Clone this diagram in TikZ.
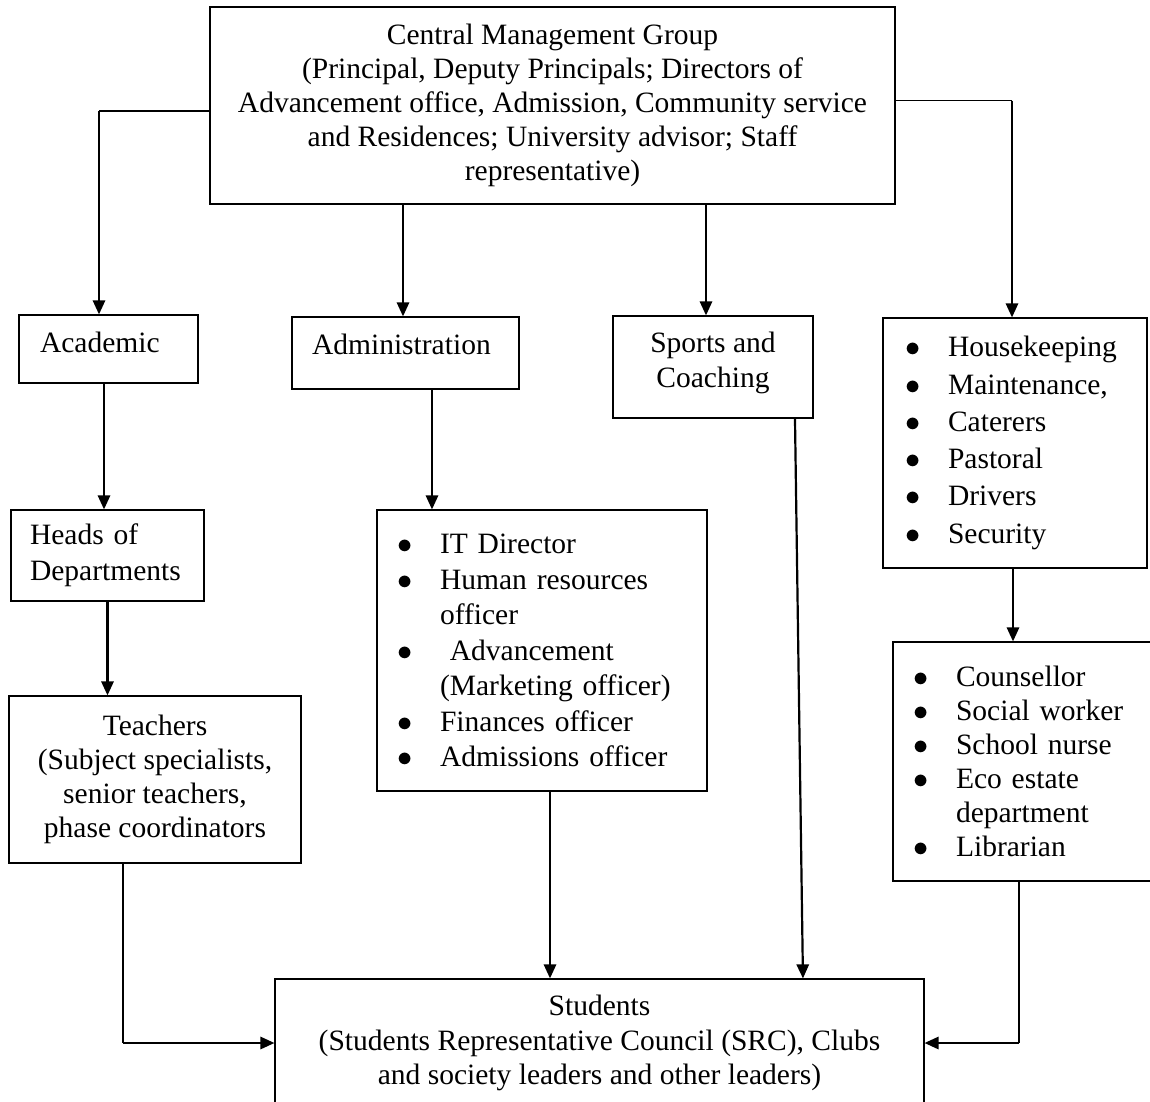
\documentclass[tikz,border=0pt]{standalone}
\usepackage{fontspec}
\setmainfont{Liberation Serif}
\usetikzlibrary{positioning,calc,arrows.meta}

\newcommand{\bul}{\makebox[0.86cm][l]{$\bullet$}}

\begin{document}
\begin{tikzpicture}[x=0.02cm,y=-0.02cm]
        \tikzstyle{box}=[draw, line width=0.7pt, inner ysep=0pt, font=\fontsize{16.8}{19.4}\selectfont]
        \tikzstyle{arr}=[line width=1.25pt, -{Triangle[length=8pt,width=7pt]}]
        \tikzstyle{link}=[line width=0.6pt]
        \useasboundingbox (0,0) rectangle (1150,1102);

        % top box
        \node[box, align=center, minimum width=13.7cm, minimum height=3.94cm] (cmg) at (552.5,105.5)
            {Central Management Group\\(Principal, Deputy Principals; Directors of\\Advancement office, Admission, Community service\\and Residences; University advisor; Staff\\representative)};

        % second row
        \node[box, align=left, inner xsep=0.42cm, text width=2.74cm, text depth=0.28cm, minimum height=1.36cm] (acad) at (108.5,349) {Academic};
        \node[box, align=left, inner xsep=0.4cm, text width=3.74cm, text depth=0.36cm, minimum height=1.44cm] (admin) at (405.5,353) {Administration};
        \node[box, align=center, text depth=0.29cm, minimum width=4cm, minimum height=2.04cm] (sports) at (713,367) {Sports and\\Coaching};
        \node[box, align=left, inner xsep=0.44cm, text width=4.4cm, minimum height=5cm,
              font=\fontsize{16.8}{21.2}\selectfont] (house) at (1015,443)
            {\bul Housekeeping\\\bul Maintenance,\\\bul Caterers\\\bul Pastoral\\\bul Drivers\\\bul Security};

        % third row
        \node[box, align=left, inner xsep=0.38cm, text width=3.1cm, minimum height=1.82cm,
              font=\fontsize{16.8}{20.4}\selectfont] (heads) at (107.5,555.5) {Heads of\\Departments};
        \node[box, align=left, inner xsep=0.4cm, text width=5.8cm, minimum height=5.62cm,
              font=\fontsize{16.8}{20.2}\selectfont] (itbox) at (542,650.5)
            {\bul IT Director\\\bul Human resources\\\hspace*{0.86cm}officer\\\bul \ Advancement\\\hspace*{0.86cm}(Marketing officer)\\\bul Finances officer\\\bul Admissions officer};
        \node[box, align=left, inner xsep=0.4cm, text width=4.38cm, minimum height=4.78cm] (couns) at (1022.5,761.5)
            {\bul Counsellor\\\bul Social worker\\\bul School nurse\\\bul Eco estate\\\hspace*{0.86cm}department\\\bul Librarian\par\vspace*{0.2cm}};
        \node[box, align=center, minimum width=5.84cm, minimum height=3.34cm] (teach) at (155,779.5)
            {Teachers\\(Subject specialists,\\senior teachers,\\phase coordinators};

        % bottom box
        \node[box, align=center, minimum width=12.98cm, minimum height=2.56cm] (stud) at (599.5,1043)
            {Students\\(Students Representative Council (SRC), Clubs\\and society leaders and other leaders)};

        % connectors
        \coordinate (kl) at ([yshift=-0.11cm]cmg.west -| 99,0);
        \coordinate (kr) at ([yshift=0.1cm]cmg.east -| 1012,0);
        \draw[link] ([yshift=-0.11cm]cmg.west) -- (kl);
        \draw[arr] (kl) -- (kl |- acad.north);
        \draw[arr] ([xshift=-0.05cm]cmg.south -| admin.north) -- ([xshift=-0.05cm]admin.north);
        \draw[arr] ([xshift=-0.14cm]cmg.south -| sports.north) -- ([xshift=-0.14cm]sports.north);
        \draw[link] ([yshift=0.1cm]cmg.east) -- (kr);
        \draw[arr] (kr) -- (kr |- house.north);

        \draw[arr] ([xshift=-0.09cm]acad.south) -- ([xshift=-0.09cm]acad.south |- heads.north);
        \draw[arr] ([xshift=0.53cm]admin.south) -- ([xshift=0.53cm]admin.south |- itbox.north);
        \draw[arr] (heads.south) -- (heads.south |- teach.north);
        \draw[arr] ([xshift=-0.04cm]house.south) -- ([xshift=-0.04cm]house.south |- couns.north);

        \coordinate (bl) at ([xshift=-0.64cm]teach.south |- stud.west);
        \coordinate (br) at ([xshift=-0.07cm]couns.south |- stud.east);
        \draw[link] ([xshift=-0.64cm]teach.south) -- (bl);
        \draw[arr] (bl) -- (stud.west);
        \draw[arr] ([xshift=0.16cm]itbox.south) -- ([xshift=0.16cm]itbox.south |- stud.north);
        \draw[arr] ([xshift=1.64cm]sports.south) -- ([xshift=4.07cm]stud.north);
        \draw[link] ([xshift=-0.07cm]couns.south) -- (br);
        \draw[arr] (br) -- (stud.east);
\end{tikzpicture}
\end{document}
